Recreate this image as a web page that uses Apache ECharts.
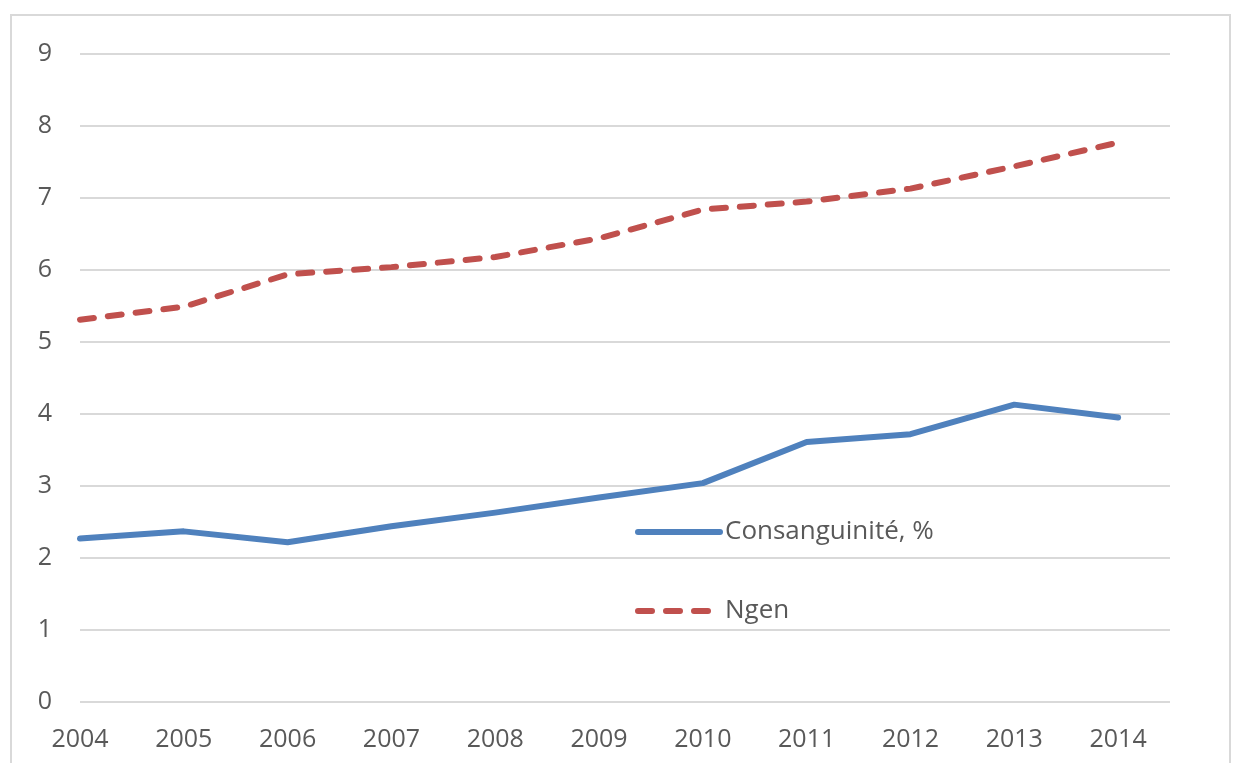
<!DOCTYPE html>
<html>
<head>
<meta charset="utf-8">
<script src="https://cdn.jsdelivr.net/npm/echarts@6/dist/echarts.min.js"></script>
<style>
  html, body { margin: 0; padding: 0; background: #fff; }
  #chart { width: 1236px; height: 763px; }
</style>
</head>
<body>
<div id="chart"></div>
<script>
// années (axe x)
var years = [2004, 2005, 2006, 2007, 2008, 2009, 2010, 2011, 2012, 2013, 2014];
// consanguinité, %
var consang = [2.27, 2.37, 2.22, 2.44, 2.63, 2.84, 3.04, 3.61, 3.72, 4.13, 3.95];
// nombre de générations
var ngen = [5.31, 5.49, 5.94, 6.04, 6.18, 6.44, 6.84, 6.95, 7.13, 7.44, 7.77];
var seriesNames = ['Consanguinité, %', 'Ngen'];

function pairs(vals) {
  return years.map(function (y, i) { return [y, vals[i]]; });
}

var myChart = echarts.init(document.getElementById('chart'));
var font = '"Open Sans", sans-serif';

var option = {
  animation: false,
  backgroundColor: '#fff',
  // cadre gris autour du graphique
  graphic: [{
    type: 'rect',
    shape: { x: 11, y: 15, width: 1219, height: 760 },
    style: { fill: 'none', stroke: '#d9d9d9', lineWidth: 2 },
    silent: true
  }],
  grid: { left: 80, right: 66, top: 54, bottom: 61 },
  legend: {
    orient: 'vertical',
    left: 630,
    top: 514,
    itemWidth: 82,
    itemHeight: 6,
    itemGap: 53,
    lineStyle: { width: 6, cap: 'round' },
    itemStyle: { opacity: 0 },
    textStyle: { fontFamily: font, fontSize: 26, color: '#595959', padding: [0, 0, 0, 0] },
    data: seriesNames
  },
  xAxis: {
    type: 'value',
    min: 2004,
    max: 2014.5,
    interval: 1,
    splitLine: { show: false },
    axisLine: { show: false },
    axisTick: { show: false },
    axisLabel: {
      margin: 25,
      fontFamily: font,
      fontSize: 25,
      color: '#595959',
      showMaxLabel: false,
      formatter: function (v) { return v % 1 === 0 ? String(v) : ''; }
    }
  },
  yAxis: {
    type: 'value',
    min: 0,
    max: 9,
    interval: 1,
    axisLine: { show: false },
    axisTick: { show: false },
    splitLine: { lineStyle: { color: '#d9d9d9', width: 2 } },
    axisLabel: { margin: 28, fontFamily: font, fontSize: 25, color: '#595959' }
  },
  series: [
    {
      name: seriesNames[0],
      type: 'line',
      data: pairs(consang),
      symbol: 'none',
      color: '#4f81bd',
      lineStyle: { width: 6, color: '#4f81bd', cap: 'round', join: 'round' }
    },
    {
      name: seriesNames[1],
      type: 'line',
      data: pairs(ngen),
      symbol: 'none',
      color: '#c0504d',
      lineStyle: { width: 6, color: '#c0504d', type: [14, 14], cap: 'round', join: 'round' }
    }
  ]
};

myChart.setOption(option);
</script>
</body>
</html>
